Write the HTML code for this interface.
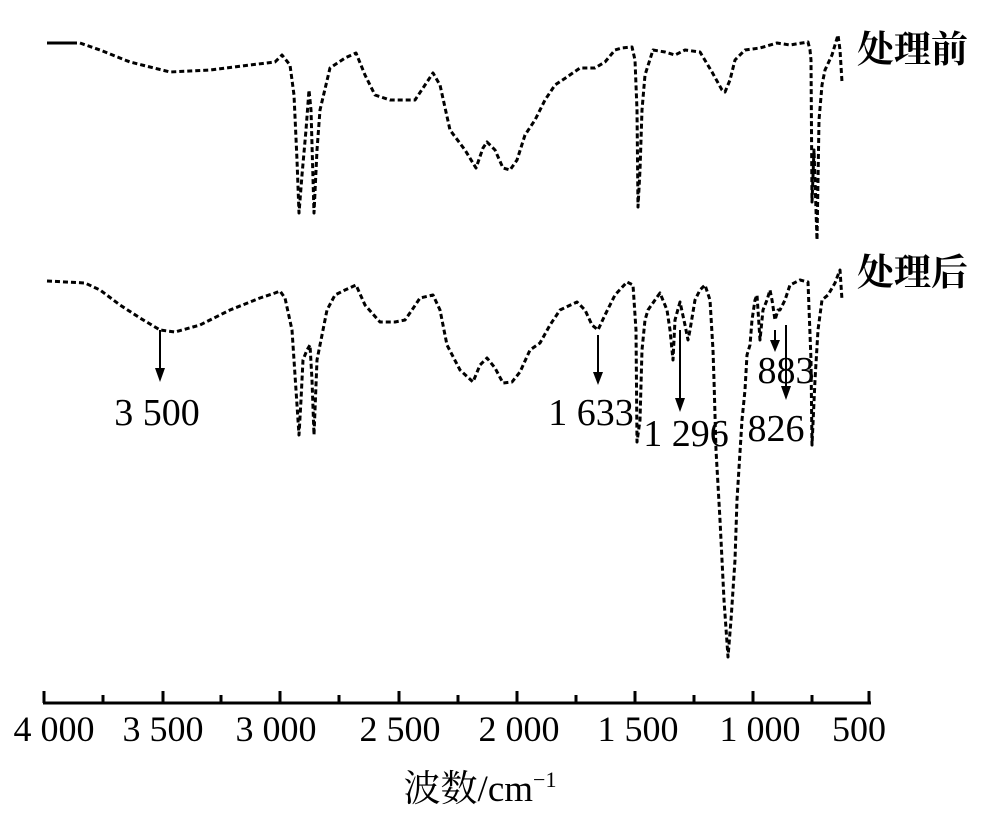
<!DOCTYPE html>
<html><head><meta charset="utf-8"><style>
html,body{margin:0;padding:0;background:#fff;}
svg{display:block;}
text{font-family:"Liberation Serif","Noto Serif CJK SC",serif;fill:#000;}
</style></head><body>
<svg width="1000" height="814" viewBox="0 0 1000 814">
<g fill="none" stroke="#000" stroke-width="3" stroke-linejoin="round">
<polyline points="47,43 77,43"/>
<polyline stroke-dasharray="5,3" points="80,43 100,50 130,62 170,72 210,70 250,65 275,62 282,55 290,65 294,95 297,160 299,213 302,175 306,130 309,90 311,110 314,213 317,150 320,110 330,68 345,58 356,53 365,75 375,95 390,100 415,100 425,85 433,73 440,85 450,130 465,150 476,168 483,148 487,142 495,150 503,168 510,170 517,160 525,135 535,120 545,100 555,85 567,77 580,68 595,68 605,62 615,50 622,48 632,47 635,60 637,110 638,207 640,170 642,110 645,75 653,50 665,52 675,55 685,50 700,52 712,72 722,90 725,92 730,80 735,60 745,50 760,48 777,43 790,45 808,42 810,50 811,60 812,202 814,150 817,240 819,120 822,85 825,70 832,55 835,45 838,35 840,50 842,82"/>
<polyline stroke-dasharray="5,3" points="47,281 85,283 100,290 120,305 140,318 160,330 175,332 200,325 230,310 260,298 275,293 280,291 285,298 292,330 296,390 299,435 301,400 303,360 307,350 310,345 312,380 314,435 317,360 320,345 327,310 335,295 345,290 356,285 365,305 380,322 395,322 405,320 412,310 420,298 433,295 440,310 447,345 460,370 473,382 480,365 487,358 495,368 503,383 512,382 520,372 530,350 540,343 550,325 560,310 577,302 585,310 592,325 598,330 605,315 615,295 627,282 633,285 636,330 637,442 640,420 642,350 645,320 648,310 655,300 660,293 667,310 670,330 673,360 675,320 680,302 685,325 688,340 690,330 695,300 700,290 705,285 710,300 713,350 714,380 716,450 720,520 724,600 728,657 731,620 735,560 737,500 742,420 745,390 747,355 750,345 752,320 755,300 757,295 760,340 763,310 767,300 770,290 772,300 775,320 778,310 780,310 785,300 790,285 800,280 808,282 811,360 812,445 815,380 818,330 822,300 828,295 835,283 838,275 840,270 842,300"/>
</g>
<g stroke="#000" stroke-width="2">
<line x1="160" y1="330" x2="160" y2="372"/><line x1="598" y1="335" x2="598" y2="375"/>
<line x1="680" y1="330" x2="680" y2="402"/><line x1="775" y1="330" x2="775" y2="343"/>
<line x1="786" y1="325" x2="786" y2="390"/>
</g>
<g fill="#000">
<polygon points="155,368 165,368 160,382"/><polygon points="593,372 603,372 598,385"/>
<polygon points="675,398 685,398 680,412"/><polygon points="770,340 780,340 775,352"/>
<polygon points="781,386 791,386 786,400"/>
</g>
<g font-size="38">
<text x="157" y="425" text-anchor="middle">3 500</text>
<text x="591" y="425" text-anchor="middle">1 633</text>
<text x="686" y="446" text-anchor="middle">1 296</text>
<text x="786" y="383" text-anchor="middle">883</text>
<text x="776" y="441" text-anchor="middle">826</text>
</g>
<g font-size="37">
<text x="857" y="62" style="font-family:'Noto Serif CJK SC',serif;font-weight:bold">处理前</text>
<text x="857" y="285" style="font-family:'Noto Serif CJK SC',serif;font-weight:bold">处理后</text>
</g>
<g stroke="#000" stroke-width="3">
<line x1="43" y1="703" x2="871" y2="703"/>
<line x1="44" y1="691" x2="44" y2="703"/><line x1="103" y1="695" x2="103" y2="703"/>
<line x1="163" y1="691" x2="163" y2="703"/><line x1="221" y1="695" x2="221" y2="703"/>
<line x1="280" y1="691" x2="280" y2="703"/><line x1="339" y1="695" x2="339" y2="703"/>
<line x1="399" y1="691" x2="399" y2="703"/><line x1="458" y1="695" x2="458" y2="703"/>
<line x1="517" y1="691" x2="517" y2="703"/><line x1="576" y1="695" x2="576" y2="703"/>
<line x1="635" y1="691" x2="635" y2="703"/><line x1="694" y1="695" x2="694" y2="703"/>
<line x1="753" y1="691" x2="753" y2="703"/><line x1="812" y1="695" x2="812" y2="703"/>
<line x1="869" y1="691" x2="869" y2="703"/>
</g>
<g font-size="36" text-anchor="middle">
<text x="54" y="741">4 000</text><text x="163" y="741">3 500</text>
<text x="276" y="741">3 000</text><text x="400" y="741">2 500</text>
<text x="519" y="741">2 000</text><text x="638" y="741">1 500</text>
<text x="760" y="741">1 000</text><text x="859" y="741">500</text>
</g>
<text x="480" y="801" font-size="37" text-anchor="middle"><tspan style="font-family:'Noto Serif CJK SC',serif">波数</tspan>/cm<tspan font-size="22" dy="-14">−1</tspan></text>
</svg>
</body></html>
